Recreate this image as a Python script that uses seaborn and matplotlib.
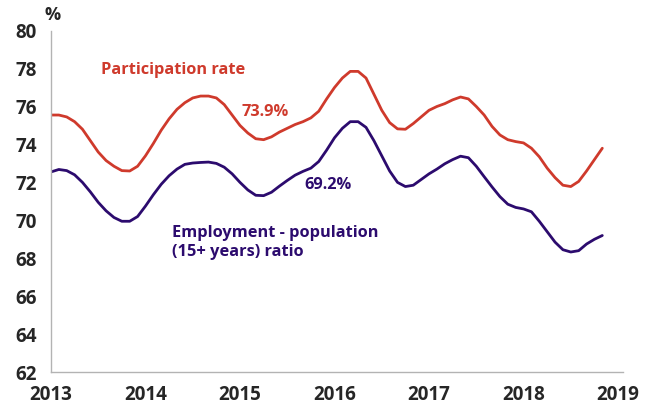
import matplotlib
matplotlib.use('Agg')
import matplotlib.pyplot as plt
import seaborn as sns
import numpy as np
import pandas as pd

# monthly readings, Jan 2013 - Nov 2018
months = 2013 + np.arange(71) / 12.0
participation = [75.55, 75.55, 75.45, 75.2, 74.8, 74.2, 73.6, 73.15, 72.85, 72.62,
                 72.6, 72.85, 73.4, 74.05, 74.75, 75.35, 75.85, 76.2, 76.45, 76.55,
                 76.55, 76.45, 76.1, 75.55, 75.0, 74.6, 74.3, 74.25, 74.4, 74.65,
                 74.85, 75.05, 75.2, 75.4, 75.75, 76.4, 77.0, 77.5, 77.85, 77.85,
                 77.5, 76.65, 75.8, 75.15, 74.82, 74.8, 75.1, 75.45, 75.8, 76.0,
                 76.15, 76.35, 76.5, 76.4, 76.0, 75.55, 74.95, 74.5, 74.25, 74.15,
                 74.08, 73.8, 73.35, 72.75, 72.25, 71.85, 71.78, 72.05, 72.6, 73.2,
                 73.8]
employment = [72.55, 72.68, 72.62, 72.4, 72.0, 71.5, 70.95, 70.5, 70.15, 69.95,
              69.95, 70.2, 70.75, 71.35, 71.9, 72.35, 72.7, 72.95, 73.02, 73.05,
              73.07, 73.0, 72.8, 72.45, 72.0, 71.6, 71.32, 71.3, 71.48, 71.8,
              72.1, 72.38, 72.58, 72.75, 73.1, 73.7, 74.35, 74.85, 75.2, 75.2,
              74.9, 74.2, 73.4, 72.6, 72.0, 71.78, 71.85, 72.15, 72.45, 72.7,
              72.98, 73.2, 73.38, 73.3, 72.85, 72.3, 71.76, 71.25, 70.85, 70.68,
              70.6, 70.45, 69.95, 69.4, 68.85, 68.45, 68.33, 68.4, 68.75, 69.0,
              69.2]
years = [2013, 2014, 2015, 2016, 2017, 2018, 2019]
yticks = [62, 64, 66, 68, 70, 72, 74, 76, 78, 80]

red = '#cf3a2c'
purple = '#2c0b6e'
grey = '#b3b3b3'

sns.set_style('white')
plt.rcParams['font.family'] = ['Open Sans', 'DejaVu Sans']

df = pd.DataFrame({'month': np.concatenate([months, months]),
                   'value': participation + employment,
                   'series': ['Participation rate'] * 71 + ['Employment'] * 71})

fig = plt.figure(figsize=(6.45, 4.08), dpi=100)
ax = fig.add_axes([0.079, 0.088, 0.887, 0.837])
sns.lineplot(data=df, x='month', y='value', hue='series',
             palette={'Participation rate': red, 'Employment': purple},
             linewidth=2.0, legend=False, ax=ax)

ax.set_xlim(2013, 2019.053)
ax.set_ylim(62, 80)
ax.set_xticks(years)
ax.set_xticklabels([str(y) for y in years], fontsize=13.5, fontweight='bold')
ax.set_yticks(yticks)
ax.set_yticklabels([str(y) for y in yticks], fontsize=13.5, fontweight='bold')
ax.tick_params(axis='x', length=0, pad=9)
ax.tick_params(axis='y', length=4.3, width=1, color=grey, pad=6)
ax.set_xlabel('')
ax.set_ylabel('')
for s in ['top', 'right']:
    ax.spines[s].set_visible(False)
for s in ['left', 'bottom']:
    ax.spines[s].set_color(grey)
    ax.spines[s].set_linewidth(1)

ax.text(2013.02, 80.8, '%', fontsize=13, fontweight='bold', ha='center', va='center')
ax.text(2013.53, 77.92, 'Participation rate', color=red, fontsize=11.8,
        fontweight='bold', ha='left', va='center')
ax.text(2015.27, 75.7, '73.9%', color=red, fontsize=11.8, fontweight='bold',
        ha='center', va='center')
ax.text(2015.93, 71.85, '69.2%', color=purple, fontsize=11.8, fontweight='bold',
        ha='center', va='center')
ax.text(2014.28, 68.81, 'Employment - population\n(15+ years) ratio', color=purple,
        fontsize=11.8, fontweight='bold', ha='left', va='center', linespacing=1.25)

fig.savefig('out.png', dpi=100)
